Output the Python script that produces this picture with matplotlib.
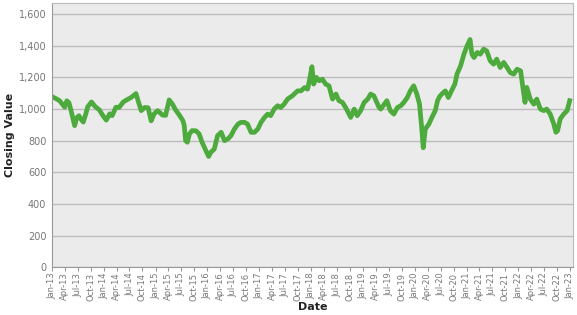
import matplotlib
matplotlib.use("Agg")
import matplotlib.pyplot as plt
import matplotlib.dates as mdates
from matplotlib.ticker import FuncFormatter, MultipleLocator
import pandas as pd

dates = [
    "2013-01-01","2013-01-16","2013-02-01","2013-02-25","2013-03-16","2013-04-01","2013-04-16","2013-05-01",
    "2013-05-16","2013-06-10","2013-06-25","2013-07-10","2013-07-25","2013-08-10","2013-08-28","2013-09-10",
    "2013-10-07","2013-10-28","2013-11-16","2013-12-01","2013-12-25","2014-01-19","2014-02-12","2014-03-01",
    "2014-03-28","2014-04-19","2014-05-19","2014-06-16","2014-07-16","2014-08-16","2014-09-01","2014-09-22",
    "2014-10-16","2014-11-10","2014-12-01","2014-12-22","2015-01-16","2015-02-19","2015-03-13","2015-04-07",
    "2015-05-01","2015-05-22","2015-06-19","2015-07-13","2015-07-22","2015-08-01","2015-08-13","2015-08-28",
    "2015-09-16","2015-10-13","2015-11-04","2015-11-25","2015-12-22","2016-01-10","2016-01-25","2016-02-19",
    "2016-03-13","2016-04-07","2016-05-01","2016-05-25","2016-06-16","2016-07-10","2016-08-04","2016-08-25",
    "2016-09-19","2016-10-10","2016-11-04","2016-11-28","2016-12-22","2017-01-13","2017-02-07","2017-03-01",
    "2017-03-22","2017-04-16","2017-05-10","2017-06-01","2017-06-25","2017-07-19","2017-08-22","2017-09-28",
    "2017-10-22","2017-11-16","2017-12-07","2017-12-19","2018-01-07","2018-01-19","2018-02-07","2018-02-27",
    "2018-03-22","2018-04-13","2018-05-07","2018-06-01","2018-06-25","2018-07-16","2018-08-10","2018-09-01",
    "2018-09-13","2018-10-07","2018-11-01","2018-11-22","2018-12-16","2019-01-10","2019-02-04","2019-02-25",
    "2019-03-19","2019-04-25","2019-05-07","2019-06-01","2019-06-19","2019-07-13","2019-08-07","2019-09-01",
    "2019-09-25","2019-10-16","2019-11-10","2019-12-01","2019-12-25","2020-01-16","2020-02-04","2020-02-19",
    "2020-03-01","2020-03-16","2020-04-10","2020-05-01","2020-05-25","2020-06-10","2020-06-25","2020-07-10",
    "2020-08-04","2020-08-25","2020-09-22","2020-10-10","2020-10-25","2020-11-19","2020-12-13","2021-01-04",
    "2021-01-25","2021-02-07","2021-02-22","2021-03-16","2021-04-07","2021-05-01","2021-05-22","2021-06-16",
    "2021-07-10","2021-08-01","2021-08-25","2021-09-19","2021-10-13","2021-11-04","2021-11-28","2021-12-22",
    "2022-01-16","2022-02-01","2022-02-16","2022-03-01","2022-03-25","2022-04-19","2022-05-10","2022-06-04",
    "2022-06-28","2022-07-19","2022-08-13","2022-09-07","2022-09-22","2022-10-04","2022-10-22","2022-11-16",
    "2022-12-10","2022-12-28",
]
closing_values = [
    1080,1072,1065,1052,1030,1012,1052,1040,
    990,895,945,958,935,918,970,1014,
    1045,1020,1005,995,960,930,970,958,
    1012,1010,1045,1060,1075,1098,1050,990,
    1010,1008,925,970,990,962,960,1058,
    1030,995,960,926,897,800,790,843,
    864,862,843,789,737,700,726,747,
    832,853,800,811,832,874,905,916,
    916,905,853,853,874,916,947,968,
    958,1000,1021,1010,1031,1063,1084,1115,
    1115,1136,1126,1175,1268,1158,1200,1179,
    1189,1158,1147,1063,1095,1053,1042,1010,
    990,947,1000,958,990,1042,1063,1095,
    1084,1010,1000,1031,1053,990,968,1010,
    1021,1042,1073,1115,1147,1095,1031,884,
    755,874,905,947,990,1053,1080,1095,
    1115,1073,1126,1158,1221,1273,1347,1400,
    1440,1347,1326,1358,1347,1379,1368,1305,
    1284,1316,1263,1295,1263,1231,1221,1252,
    1242,1137,1042,1137,1063,1031,1063,1000,
    990,1000,968,905,853,863,937,968,
    990,1053,
]
x_label = "Date"
y_label = "Closing Value"

x = pd.to_datetime(dates)

fig = plt.figure(figsize=(5.77, 3.15), dpi=100)
ax = fig.add_axes([0.090, 0.152, 0.903, 0.838])
ax.set_facecolor("#EBEBEB")
ax.plot(x, closing_values, color="#4DAA3C", linewidth=3.4, solid_joinstyle="round")

ax.set_ylim(0, 1670)
ax.set_xlim(pd.Timestamp("2013-01-01"), pd.Timestamp("2023-01-20"))
ax.yaxis.set_major_locator(MultipleLocator(200))
ax.yaxis.set_major_formatter(FuncFormatter(lambda v, p: f"{int(v):,}"))
ax.xaxis.set_major_locator(mdates.MonthLocator(bymonth=[1, 4, 7, 10]))
ax.xaxis.set_major_formatter(mdates.DateFormatter("%b-%y"))

ax.grid(axis="y", color="#BDBDBD", linewidth=1)
ax.set_axisbelow(True)
for s in ["left", "bottom"]:
    ax.spines[s].set_color("#999999")
for s in ["top", "right"]:
    ax.spines[s].set_color("#BBBBBB")

ax.tick_params(axis="y", labelsize=7, labelcolor="#777777", length=0, pad=4)
ax.tick_params(axis="x", labelsize=6, labelcolor="#777777", length=3, color="#999999",
               pad=1, rotation=90)

ax.set_xlabel(x_label, fontsize=8, fontweight="bold", color="#222222", labelpad=1)
ax.set_ylabel(y_label, fontsize=8, fontweight="bold", color="#222222")
ax.yaxis.set_label_coords(-0.071, 0.5)

fig.savefig("out.png", dpi=100)
